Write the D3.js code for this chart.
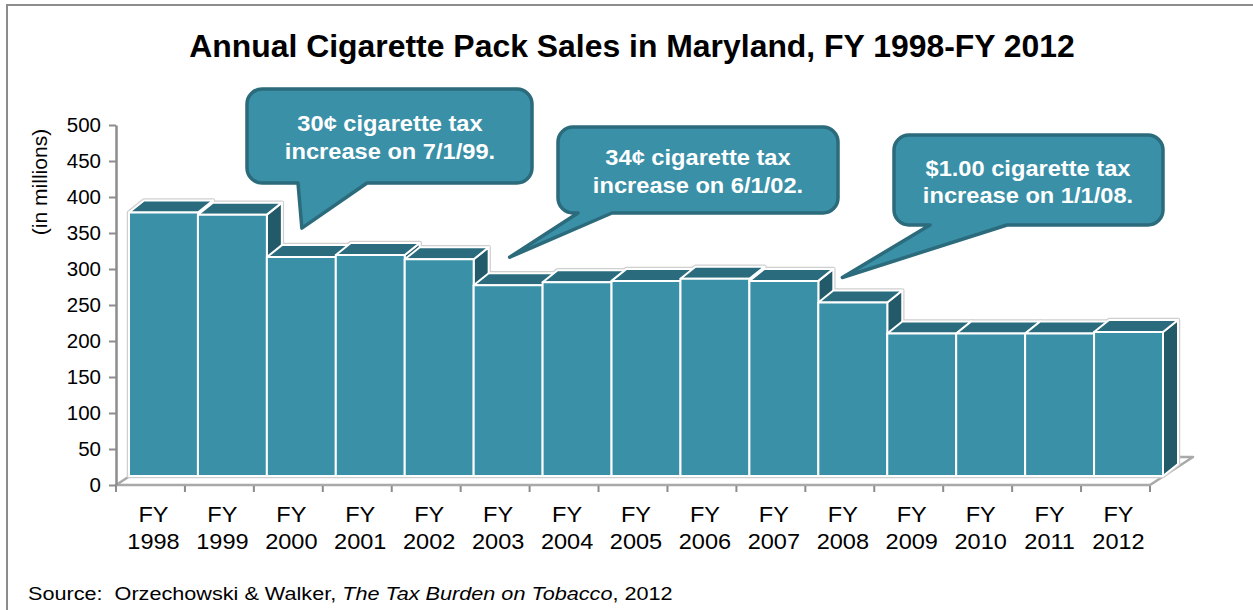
<!DOCTYPE html>
<html>
<head>
<meta charset="utf-8">
<script src="https://cdn.jsdelivr.net/npm/d3@7"></script>
<style>
  html, body { margin: 0; padding: 0; background: #fff; }
  svg { display: block; font-family: "Liberation Sans", Arial, sans-serif; }
</style>
</head>
<body>
<svg id="chart" width="1253" height="610"></svg>
<script>
// Fiscal years and annual pack sales (millions of packs)
const years = ["1998","1999","2000","2001","2002","2003","2004","2005",
               "2006","2007","2008","2009","2010","2011","2012"];
const packSales = [366, 363, 304, 307, 301, 265, 269, 271, 274, 271, 241, 198, 198, 198, 200];

const yTicks = [0, 50, 100, 150, 200, 250, 300, 350, 400, 450, 500];

// Tax increase notes and the fiscal year each one points at
const noteYears = ["2000", "2003", "2008"];
const noteLines = [
  ["30\u00a2 cigarette tax", "increase on 7/1/99."],
  ["34\u00a2 cigarette tax", "increase on 6/1/02."],
  ["$1.00 cigarette tax", "increase on 1/1/08."]
];

const svg = d3.select("#chart");

// text drawn slightly wide, anchored at (px, py)
function wideText(parent, px, py, sx, anchor) {
  return parent.append("g")
    .attr("transform", `translate(${px},${py}) scale(${sx},1)`)
    .append("text").attr("x", 0).attr("y", 0).attr("text-anchor", anchor);
}

// frame around the slide
svg.append("rect")
  .attr("x", 7).attr("y", 5).attr("width", 1260).attr("height", 620)
  .attr("fill", "none").attr("stroke", "#8c8c8c").attr("stroke-width", 2);

// title
wideText(svg, 632, 57, 1.03, "middle")
  .attr("font-size", 31).attr("font-weight", "bold").attr("fill", "#000")
  .text("Annual Cigarette Pack Sales in Maryland, FY 1998-FY 2012");

// scales
const y = d3.scaleLinear().domain([0, 500]).range([485, 125]);
const x = d3.scaleBand().domain(years).range([116, 1150]).padding(0);

// 3D geometry: bars set back from the floor edge, depth goes up-right
const setX = 13, setY = 9;     // front face offset from floor front edge
const dX = 15, dY = 12;        // bar depth
const floorDX = 43, floorDY = 28;

const colFront = "#3a90a7", colTop = "#2a6c7e", colSide = "#225a69";

// floor
const floorPts = [
  [116, y(0)], [1150, y(0)], [1150 + floorDX, y(0) - floorDY], [116 + floorDX, y(0) - floorDY]
];
svg.append("polygon")
  .attr("points", floorPts.map(p => p.join(",")).join(" "))
  .attr("fill", "#ffffff").attr("stroke", "#a9a9a9").attr("stroke-width", 2.5)
  .attr("stroke-linejoin", "round");

// value axis
const yAxis = d3.axisLeft(y).tickValues(yTicks).tickSize(7).tickPadding(8).tickSizeOuter(0);
const gy = svg.append("g").attr("transform", "translate(116,0)").call(yAxis);
gy.select(".domain").attr("stroke", "#8c8c8c").attr("stroke-width", 2.5);
gy.selectAll(".tick line").attr("stroke", "#8c8c8c").attr("stroke-width", 2);
gy.selectAll(".tick text").attr("font-size", 20.5).attr("fill", "#000")
  .attr("font-family", "\"Liberation Sans\", Arial, sans-serif");

// category ticks under the floor edge
const bounds = years.map(c => x(c)).concat([x(years[years.length - 1]) + x.bandwidth()]);
svg.append("g").selectAll("line").data(bounds).join("line")
  .attr("x1", d => d).attr("x2", d => d)
  .attr("y1", y(0) + 1).attr("y2", y(0) + 7)
  .attr("stroke", "#8c8c8c").attr("stroke-width", 2);

// category labels
const gx = svg.append("g");
years.forEach(c => {
  const cx = x(c) + x.bandwidth() / 2 + 3;
  const t = wideText(gx, cx, 0, 1.07, "middle")
    .attr("font-size", 22).attr("fill", "#000");
  t.append("tspan").attr("x", 0).attr("y", 522).text("FY");
  t.append("tspan").attr("x", 0).attr("y", 549).text(c);
});

// y axis title
svg.append("g").attr("transform", "translate(47,182) rotate(-90) scale(1.08,1)")
  .append("text").attr("text-anchor", "middle").attr("font-size", 19.5).attr("fill", "#000")
  .text("(in millions)");

// bars
const bars = years.map((c, i) => {
  const x0 = x(c) + setX, x1 = x0 + x.bandwidth();
  const yt = y(packSales[i]) - setY, yb = y(0) - setY;
  return {
    front: [[x0, yt], [x1, yt], [x1, yb], [x0, yb]],
    top: [[x0, yt], [x0 + dX, yt - dY], [x1 + dX, yt - dY], [x1, yt]],
    side: [[x1, yt], [x1 + dX, yt - dY], [x1 + dX, yb - dY], [x1, yb]],
    outline: [[x0, yb], [x0, yt], [x0 + dX, yt - dY], [x1 + dX, yt - dY], [x1 + dX, yb - dY], [x1, yb]]
  };
});
const pts = a => a.map(p => p.join(",")).join(" ");

// soft grey halo around the bar silhouettes
svg.append("g").selectAll("polygon").data(bars).join("polygon")
  .attr("points", d => pts(d.outline))
  .attr("fill", "none").attr("stroke", "#cfcfcf").attr("stroke-width", 4.5)
  .attr("stroke-linejoin", "round");

const gb = svg.append("g");
bars.forEach(b => {
  const g = gb.append("g").attr("stroke", "#ffffff").attr("stroke-width", 2)
    .attr("stroke-linejoin", "round");
  g.append("polygon").attr("points", pts(b.side)).attr("fill", colSide);
  g.append("polygon").attr("points", pts(b.top)).attr("fill", colTop);
  g.append("polygon").attr("points", pts(b.front)).attr("fill", colFront);
});

// callouts
const boxes = [
  { x0: 247, y0: 89, x1: 532, y1: 183, a: 298, b: 367, tdx: 35, tdy: -29, cx: 390, l1: 131, l2: 159 },
  { x0: 558, y0: 127, x1: 838, y1: 213, a: 578, b: 612, tdx: 36, tdy: -28, cx: 698, l1: 165, l2: 193 },
  { x0: 894, y0: 135, x1: 1163, y1: 225, a: 930, b: 1007, tdx: 24, tdy: -25, cx: 1028, l1: 176, l2: 203 }
];
const r = 15;
noteYears.forEach((yr, i) => {
  const bx = boxes[i];
  const idx = years.indexOf(yr);
  const tipX = x(yr) + setX + bx.tdx;
  const tipY = y(packSales[idx]) - setY + bx.tdy;
  const p = d3.path();
  p.moveTo(bx.x0 + r, bx.y0);
  p.lineTo(bx.x1 - r, bx.y0);
  p.arcTo(bx.x1, bx.y0, bx.x1, bx.y0 + r, r);
  p.lineTo(bx.x1, bx.y1 - r);
  p.arcTo(bx.x1, bx.y1, bx.x1 - r, bx.y1, r);
  p.lineTo(bx.b, bx.y1);
  p.lineTo(tipX, tipY);
  p.lineTo(bx.a, bx.y1);
  p.lineTo(bx.x0 + r, bx.y1);
  p.arcTo(bx.x0, bx.y1, bx.x0, bx.y1 - r, r);
  p.lineTo(bx.x0, bx.y0 + r);
  p.arcTo(bx.x0, bx.y0, bx.x0 + r, bx.y0, r);
  p.closePath();
  svg.append("path").attr("d", p.toString())
    .attr("fill", colFront).attr("stroke", "#2b6b7c").attr("stroke-width", 3.5)
    .attr("stroke-linejoin", "round");
  const t = wideText(svg, bx.cx, 0, 1.1, "middle")
    .attr("font-size", 21.5).attr("font-weight", "bold").attr("fill", "#ffffff");
  t.append("tspan").attr("x", 0).attr("y", bx.l1).text(noteLines[i][0]);
  t.append("tspan").attr("x", 0).attr("y", bx.l2).text(noteLines[i][1]);
});

// source line
const src = wideText(svg, 28, 600, 1.17, "start")
  .attr("font-size", 18.5).attr("fill", "#000").attr("xml:space", "preserve");
src.append("tspan").text("Source:\u00a0\u00a0Orzechowski & Walker, ");
src.append("tspan").attr("font-style", "italic").text("The Tax Burden on Tobacco");
src.append("tspan").text(", 2012");
</script>
</body>
</html>
